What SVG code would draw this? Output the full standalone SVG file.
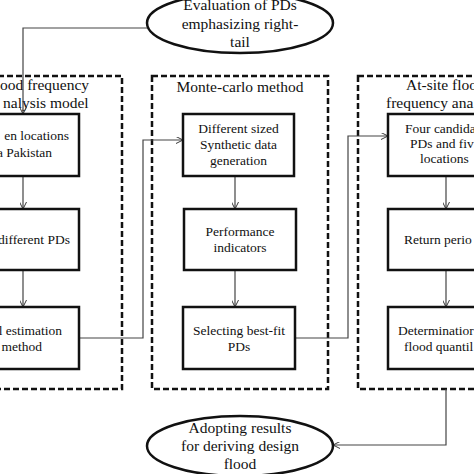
<svg xmlns="http://www.w3.org/2000/svg" width="474" height="474" viewBox="0 0 474 474">
<defs>
<marker id="arr" viewBox="0 0 10 10" refX="10" refY="5" markerWidth="7" markerHeight="7" markerUnits="userSpaceOnUse" orient="auto">
<path d="M0,0 L10,5 L0,10" fill="none" stroke="#333" stroke-width="1.4"/>
</marker>
<style>
.t{font-family:"Liberation Serif","Times New Roman",serif;fill:#111}
.big{font-size:15.5px}
.sm{font-size:13.5px}
.box{fill:#fff;stroke:#111;stroke-width:2.5}
.dash{fill:none;stroke:#111;stroke-width:2.5;stroke-dasharray:6,3}
.ell{fill:#fff;stroke:#111;stroke-width:2.5}
.con{fill:none;stroke:#444;stroke-width:1.2}
</style>
</defs>
<rect width="474" height="474" fill="#fff"/>

<g id="group-left">
<rect class="dash" x="-20" y="76" width="142" height="313"/>
<text class="t big" x="0" y="90">ood frequency</text>
<text class="t big" x="3" y="108">nalysis model</text>
</g>
<g id="group-mid">
<rect class="dash" x="152" y="76" width="176" height="313"/>
<text class="t big" x="240" y="92" text-anchor="middle">Monte-carlo method</text>
</g>
<g id="group-right">
<rect class="dash" x="358" y="76" width="140" height="313"/>
<text class="t big" x="406" y="90">At-site floo</text>
<text class="t big" x="386" y="108">frequency ana</text>
</g>

<g id="connectors">
<path class="con" d="M147,28 H23 V114" marker-end="url(#arr)"/>
<path class="con" d="M23,176 V209" marker-end="url(#arr)"/>
<path class="con" d="M23,270 V307" marker-end="url(#arr)"/>
<path class="con" d="M79,338 H143 V140 H183" marker-end="url(#arr)"/>
<path class="con" d="M235,176 V209" marker-end="url(#arr)"/>
<path class="con" d="M235,270 V307" marker-end="url(#arr)"/>
<path class="con" d="M295,338 H348 V136 H388" marker-end="url(#arr)"/>
<path class="con" d="M446,176 V209" marker-end="url(#arr)"/>
<path class="con" d="M446,270 V307" marker-end="url(#arr)"/>
<path class="con" d="M446,389 V445 H333" marker-end="url(#arr)"/>
</g>

<g id="ellipse-top">
<ellipse class="ell" cx="240" cy="23" rx="93" ry="30"/>
<text class="t big" x="240" y="10" text-anchor="middle">Evaluation of PDs</text>
<text class="t big" x="240" y="29" text-anchor="middle">emphasizing right-</text>
<text class="t big" x="240" y="47" text-anchor="middle">tail</text>
</g>

<g id="left-box1">
<rect class="box" x="-20" y="114" width="99" height="62"/>
<text class="t sm" x="69" y="140" text-anchor="end">en  locations</text>
<text class="t sm" x="52" y="157" text-anchor="end">a Pakistan</text>
</g>
<g id="left-box2">
<rect class="box" x="-20" y="209" width="99" height="61"/>
<text class="t sm" x="70" y="244" text-anchor="end">different PDs</text>
</g>
<g id="left-box3">
<rect class="box" x="-20" y="307" width="99" height="62"/>
<text class="t sm" x="62" y="335" text-anchor="end">l estimation</text>
<text class="t sm" x="42" y="351" text-anchor="end">method</text>
</g>

<g id="mid-box1">
<rect class="box" x="183" y="114" width="111" height="62"/>
<text class="t sm" x="238.5" y="133" text-anchor="middle">Different sized</text>
<text class="t sm" x="238.5" y="149" text-anchor="middle">Synthetic data</text>
<text class="t sm" x="238.5" y="165" text-anchor="middle">generation</text>
</g>
<g id="mid-box2">
<rect class="box" x="184" y="209" width="112" height="61"/>
<text class="t sm" x="240" y="236" text-anchor="middle">Performance</text>
<text class="t sm" x="240" y="252" text-anchor="middle">indicators</text>
</g>
<g id="mid-box3">
<rect class="box" x="183" y="307" width="112" height="62"/>
<text class="t sm" x="239" y="335" text-anchor="middle">Selecting best-fit</text>
<text class="t sm" x="239" y="351" text-anchor="middle">PDs</text>
</g>

<g id="right-box1">
<rect class="box" x="388" y="114" width="110" height="62"/>
<text class="t sm" x="405" y="133">Four candida</text>
<text class="t sm" x="410" y="148">PDs and fiv</text>
<text class="t sm" x="420" y="163">locations</text>
</g>
<g id="right-box2">
<rect class="box" x="388" y="209" width="110" height="61"/>
<text class="t sm" x="404" y="244">Return perio</text>
</g>
<g id="right-box3">
<rect class="box" x="388" y="307" width="110" height="62"/>
<text class="t sm" x="398" y="335">Determinatior</text>
<text class="t sm" x="404" y="351">flood quantil</text>
</g>

<g id="ellipse-bottom">
<ellipse class="ell" cx="240" cy="446" rx="93" ry="30"/>
<text class="t big" x="240" y="433" text-anchor="middle">Adopting results</text>
<text class="t big" x="240" y="451" text-anchor="middle">for deriving design</text>
<text class="t big" x="240" y="469" text-anchor="middle">flood</text>
</g>
</svg>
